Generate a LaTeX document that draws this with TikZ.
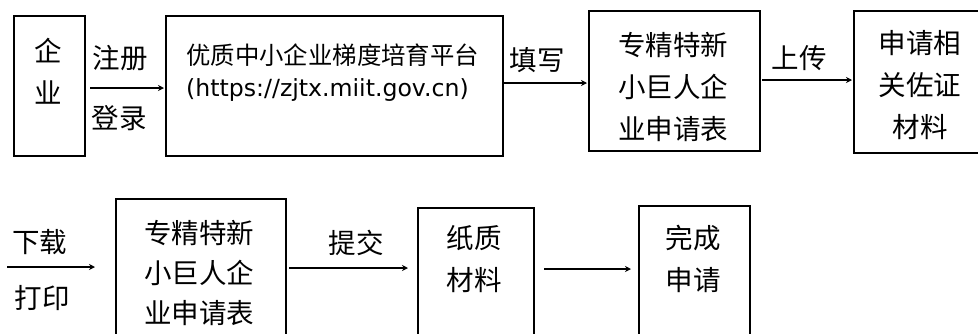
\documentclass[tikz,border=0pt]{standalone}
\usepackage{fontspec}
\newfontfamily\cjk{Noto Sans CJK SC}
\newfontfamily\dv{DejaVu Sans}
\usetikzlibrary{arrows.meta}
\begin{document}
\begin{tikzpicture}[x=1pt,y=-1pt,
  box/.style={draw, line width=2.4pt, inner sep=0pt, anchor=north west},
  arr/.style={line width=1.3pt, -{Stealth[length=6pt,width=6pt]}},
  txt/.style={font=\cjk\fontsize{27.5}{42}\selectfont, inner sep=0pt, align=center},
  ptxt/.style={font=\cjk\fontsize{24.4}{30}\selectfont, inner sep=0pt, anchor=west},
  utxt/.style={font=\dv\fontsize{23.6}{30}\selectfont, inner sep=0pt, anchor=west}]
\useasboundingbox (0,0) rectangle (978,333);
\clip (0,0) rectangle (978,333);
% row 1 boxes
\node[box, minimum width=71pt, minimum height=140pt] (qy) at (13,15) {};
\node[box, minimum width=337pt, minimum height=140pt] (pt) at (165,15) {};
\node[box, minimum width=171pt, minimum height=140pt] (sq1) at (588,10) {};
\node[box, minimum width=150pt, minimum height=142pt] (zm) at (853,10) {};
% row 2 boxes
\node[box, minimum width=170pt, minimum height=160pt] (sq2) at (115,198) {};
\node[box, minimum width=116pt, minimum height=150pt] (zz) at (417,207) {};
\node[box, minimum width=111pt, minimum height=150pt] (wc) at (638,205) {};
% texts in boxes
\node[txt] (tqy) at (48,71) {企\\业};
\node[ptxt] (tpt1) at (186,55) {优质中小企业梯度培育平台};
\node[utxt] (tpt2) at (186,90) {(https://zjtx.miit.gov.cn)};
\node[txt] (tsq1) at (673,87) {专精特新\\小巨人企\\业申请表};
\node[txt] (tzm) at (920,85) {申请相\\关佐证\\材料};
\node[txt, font=\cjk\fontsize{27.5}{40}\selectfont] (tsq2) at (199,273) {专精特新\\小巨人企\\业申请表};
\node[txt] (tzz) at (474,259) {纸质\\材料};
\node[txt] (twc) at (693,259) {完成\\申请};
% labels
\node[txt] (l1) at (120,58) {注册};
\node[txt] (l2) at (119,118) {登录};
\node[txt] (l3) at (537,60) {填写};
\node[txt] (l4) at (799,58) {上传};
\node[txt] (l5) at (40,242) {下载};
\node[txt] (l6) at (42,298) {打印};
\node[txt] (l7) at (356,243) {提交};
% arrows
\draw[arr, shorten <=4pt, shorten >=1pt] (qy.east |- 0,88) -- (pt.west |- 0,88);
\draw[arr, shorten >=1pt] (pt.east |- 0,83) -- (sq1.west |- 0,83);
\draw[arr, shorten <=1pt, shorten >=1pt] (sq1.east |- 0,80) -- (zm.west |- 0,80);
\coordinate (s) at (7,267);
\draw[arr, shorten >=20pt] (s) -- (sq2.west |- s);
\draw[arr, shorten <=2pt, shorten >=9pt] (sq2.east |- 0,268) -- (zz.west |- 0,268);
\draw[arr, shorten <=9pt, shorten >=7pt] (zz.east |- 0,269) -- (wc.west |- 0,269);
\end{tikzpicture}
\end{document}
